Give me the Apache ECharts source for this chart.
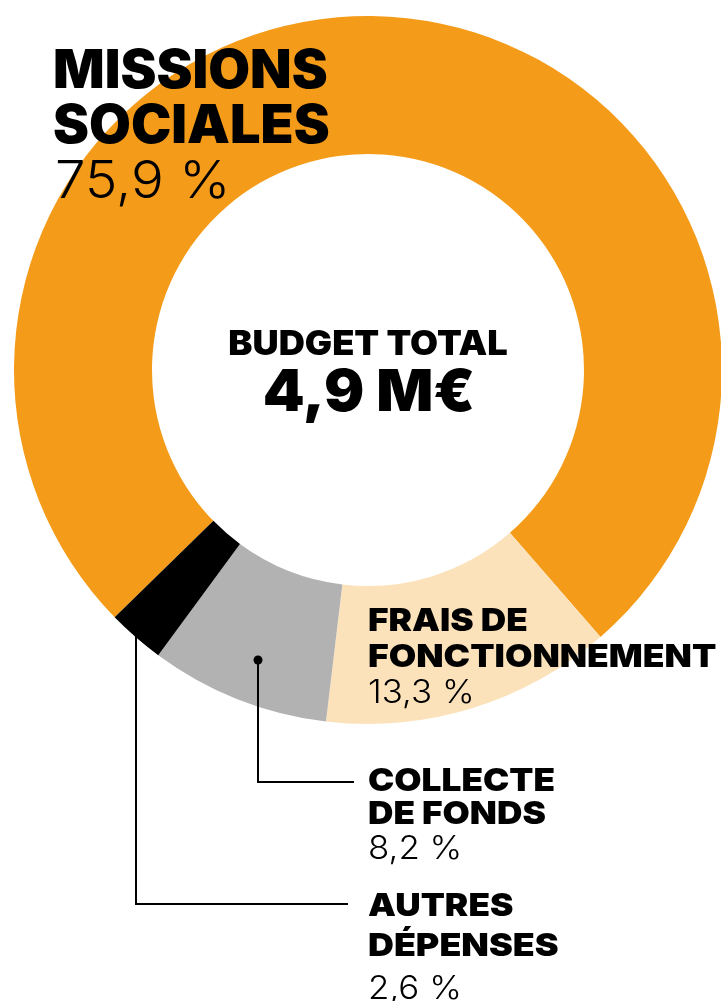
<!DOCTYPE html>
<html>
<head>
<meta charset="utf-8">
<script src="https://cdn.jsdelivr.net/npm/echarts@6/dist/echarts.min.js"></script>
<style>
  html, body { margin: 0; padding: 0; background: #fff; }
  #chart { width: 721px; height: 1001px; }
</style>
</head>
<body>
<div id="chart"></div>
<script>
// répartition du budget (en %)
var categories = ['MISSIONS SOCIALES', 'FRAIS DE FONCTIONNEMENT', 'COLLECTE DE FONDS', 'AUTRES DÉPENSES'];
var values = [75.9, 13.3, 8.2, 2.6];
var valueLabels = ['75,9 %', '13,3 %', '8,2 %', '2,6 %'];
var colors = ['#f49c1a', '#fce2bb', '#b2b2b2', '#000000'];
var totalLabel = '4,9 M€';

var fontFamily = '"Inter", "Roboto", sans-serif';

// texte avec étirement horizontal (la police d'origine est plus large)
function txt(text, x, y, size, weight, sx, align) {
  return {
    type: 'text',
    x: x, y: y,
    scaleX: sx || 1,
    originX: 0, originY: 0,
    style: {
      text: text,
      font: weight + ' ' + size + 'px ' + fontFamily,
      fill: '#000',
      align: align || 'left',
      verticalAlign: 'middle'
    },
    z: 10
  };
}

var chart = echarts.init(document.getElementById('chart'));

var pieData = categories.map(function (c, i) {
  return { name: c, value: values[i], itemStyle: { color: colors[i] } };
});

var option = {
  animation: false,
  series: [{
    type: 'pie',
    center: [368, 370],
    radius: [216, 354],
    startAngle: 224.3,
    clockwise: true,
    silent: true,
    label: { show: false },
    labelLine: { show: false },
    data: pieData
  }],
  graphic: [
    // étiquettes
    txt('MISSIONS', 53, 72, 53, 900, 1.02),
    txt('SOCIALES', 53, 127, 53, 900, 1.02),
    txt(valueLabels[0], 55, 182, 52, 300, 1.05),
    txt('BUDGET TOTAL', 368, 345, 34, 900, 1.065, 'center'),
    txt(totalLabel, 369, 394, 58, 900, 1.03, 'center'),
    txt('FRAIS DE', 368, 621, 32, 900, 1.1),
    txt('FONCTIONNEMENT', 368, 657, 32, 900, 1.11),
    txt(valueLabels[1], 368, 693, 32, 300, 1.09),
    txt('COLLECTE', 368, 781, 32, 900, 1.1),
    txt('DE FONDS', 368, 814, 32, 900, 1.1),
    txt(valueLabels[2], 368, 849, 32, 300, 1.09),
    txt('AUTRES', 368, 906, 32, 900, 1.1),
    txt('DÉPENSES', 368, 946, 32, 900, 1.12),
    txt(valueLabels[3], 368, 989, 32, 300, 1.09),
    // lignes de rappel
    {
      type: 'polyline',
      shape: { points: [[258, 660], [258, 782], [354, 782]] },
      style: { stroke: '#000', lineWidth: 2, fill: null },
      z: 10
    },
    {
      type: 'circle',
      shape: { cx: 258, cy: 660, r: 4.5 },
      style: { fill: '#000' },
      z: 10
    },
    {
      type: 'polyline',
      shape: { points: [[136, 636], [136, 904], [348, 904]] },
      style: { stroke: '#000', lineWidth: 2, fill: null },
      z: 10
    }
  ]
};

chart.setOption(option);
</script>
</body>
</html>
